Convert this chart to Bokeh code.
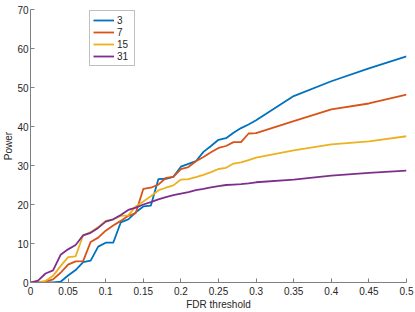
from bokeh.plotting import figure
from bokeh.models import Range1d, FixedTicker, Legend, LegendItem
from bokeh.embed import file_html
from bokeh.resources import INLINE

# ---- data ----
fdr = [0.00, 0.01, 0.02, 0.03, 0.04, 0.05, 0.06, 0.07, 0.08, 0.09,
       0.10, 0.11, 0.12, 0.13, 0.14, 0.15, 0.16, 0.17, 0.18, 0.19,
       0.20, 0.21, 0.22, 0.23, 0.24, 0.25, 0.26, 0.27, 0.28, 0.29,
       0.30, 0.35, 0.40, 0.45, 0.50]

power_3 = [0, 0, 0, 0, 0.2, 1.8, 3.2, 5.2, 5.6, 9.2,
           10.2, 10.2, 15.4, 16.2, 18.0, 19.5, 19.7, 26.5, 26.6, 27.1,
           29.7, 30.4, 31.1, 33.5, 35.0, 36.6, 37.0, 38.4, 39.6, 40.5,
           41.6, 47.8, 51.6, 54.9, 58.0]

power_7 = [0, 0, 0.2, 0.8, 2.5, 4.6, 5.4, 5.5, 10.4, 11.5,
           13.3, 14.6, 15.8, 17.1, 17.8, 24.0, 24.3, 25.1, 26.8, 27.1,
           29.1, 29.6, 31.1, 32.2, 33.4, 34.5, 35.0, 36.0, 36.0, 38.2,
           38.3, 41.4, 44.4, 45.9, 48.2]

power_15 = [0, 0, 0.4, 1.7, 4.2, 6.5, 6.7, 12.1, 12.9, 14.2,
            15.8, 16.2, 17.1, 17.2, 19.5, 20.8, 22.1, 23.6, 24.3, 24.9,
            26.4, 26.5, 27.0, 27.6, 28.3, 29.1, 29.4, 30.5, 30.8, 31.4,
            32.0, 33.9, 35.4, 36.2, 37.5]

power_31 = [0, 0.5, 2.3, 3.1, 7.1, 8.5, 9.6, 12.1, 12.75, 14.0,
            15.6, 16.2, 17.3, 18.6, 19.2, 20.0, 20.6, 21.3, 21.9, 22.4,
            22.8, 23.2, 23.7, 24.0, 24.4, 24.7, 25.0, 25.1, 25.2, 25.4,
            25.7, 26.4, 27.4, 28.1, 28.7]

series_names = ["3", "7", "15", "31"]
series_colors = ["#0072BD", "#D95319", "#EDB120", "#7E2F8E"]

x_ticks = [0, 0.05, 0.1, 0.15, 0.2, 0.25, 0.3, 0.35, 0.4, 0.45, 0.5]
x_tick_labels = ["0", "0.05", "0.1", "0.15", "0.2", "0.25", "0.3", "0.35", "0.4", "0.45", "0.5"]
y_ticks = [0, 10, 20, 30, 40, 50, 60, 70]
y_tick_labels = ["0", "10", "20", "30", "40", "50", "60", "70"]

x_label = "FDR threshold"
y_label = "Power"

FONT = "Liberation Sans"
TEXT_COLOR = "#262626"
AXIS_COLOR = "#7f7f7f"

W, H = 415, 312
FRAME_W, FRAME_H = 377, 274
LEFT, TOP = 29, 9

p = figure(width=W, height=H, output_backend="svg", toolbar_location=None,
           x_range=Range1d(0, 0.5), y_range=Range1d(0, 70))
p.min_border_left = LEFT
p.min_border_right = W - LEFT - FRAME_W
p.min_border_top = TOP
p.min_border_bottom = H - TOP - FRAME_H
p.outline_line_color = None
p.xgrid.visible = False
p.ygrid.visible = False
p.background_fill_color = "white"
p.border_fill_color = "white"

renderers = []
for ys, c in zip([power_3, power_7, power_15, power_31], series_colors):
    r = p.line(fdr, ys, line_color=c, line_width=1.8)
    renderers.append(r)

for ax, ticks, labels, title in [(p.xaxis[0], x_ticks, x_tick_labels, x_label),
                                 (p.yaxis[0], y_ticks, y_tick_labels, y_label)]:
    ax.ticker = FixedTicker(ticks=ticks)
    ax.major_label_overrides = {t: l for t, l in zip(ticks, labels)}
    ax.minor_tick_line_color = None
    ax.major_tick_in = 4
    ax.major_tick_out = 0
    ax.axis_line_color = AXIS_COLOR
    ax.major_tick_line_color = AXIS_COLOR
    ax.major_label_text_font = FONT
    ax.major_label_text_font_size = "10px"
    ax.major_label_text_color = TEXT_COLOR
    ax.axis_label = title
    ax.axis_label_text_font = FONT
    ax.axis_label_text_font_size = "10px"
    ax.axis_label_text_font_style = "normal"
    ax.axis_label_text_color = TEXT_COLOR

p.xaxis[0].major_label_standoff = 4
p.xaxis[0].axis_label_standoff = 1
p.yaxis[0].major_label_standoff = 2
p.yaxis[0].axis_label_standoff = 0

legend = Legend(items=[LegendItem(label=n, renderers=[r]) for n, r in zip(series_names, renderers)],
                location=(59, FRAME_H - 58))
legend.padding = 3
legend.spacing = 0
legend.margin = 0
legend.glyph_width = 21
legend.glyph_height = 12
legend.label_height = 12
legend.label_width = 14
legend.label_standoff = 3
legend.label_text_font = FONT
legend.label_text_font_size = "10px"
legend.label_text_color = TEXT_COLOR
legend.border_line_color = AXIS_COLOR
legend.border_line_width = 1
legend.background_fill_color = "white"
legend.background_fill_alpha = 1
p.add_layout(legend)

open("out.html", "w").write(file_html(p, INLINE))
